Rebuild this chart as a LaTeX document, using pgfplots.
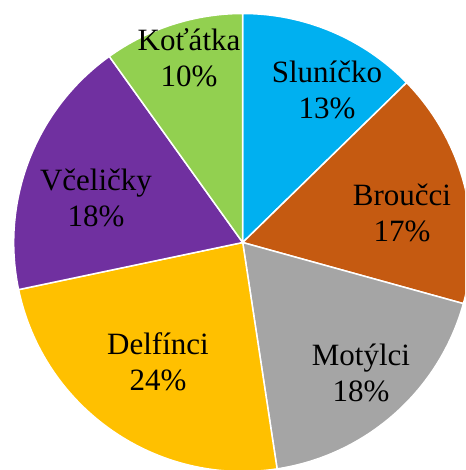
\documentclass[border=0pt]{standalone}
\usepackage{pgfplots}
\pgfplotsset{compat=1.18}
\usepackage{pgfplotstable}
\usepackage{fontspec}
\setmainfont{Liberation Serif}
\definecolor{pie0}{HTML}{00B0F0}
\definecolor{pie1}{HTML}{C55A11}
\definecolor{pie2}{HTML}{A5A5A5}
\definecolor{pie3}{HTML}{FFC000}
\definecolor{pie4}{HTML}{7030A0}
\definecolor{pie5}{HTML}{92D050}
\pgfplotstableread{
name value lx ly
Sluníčko 12.7 84.3 152.5
Broučci 16.6 159.3 29.5
Motýlci 18.3 118.3 -130.5
Delfínci 24.1 -84.7 -119.5
Včeličky 18.4 -146.7 44.5
Koťátka 9.9 -53.7 184.5
}\piedata
\begin{document}
\begin{tikzpicture}
\begin{axis}[scale only axis, width=465pt, height=470pt,
  xmin=-242.7, xmax=222.3, ymin=-227.5, ymax=242.5,
  axis line style={draw=none}, ticks=none, clip=true]
\pgfplotstablegetrowsof{\piedata}
\pgfmathtruncatemacro{\nrows}{\pgfplotsretval-1}
\gdef\cum{0}
\pgfplotsforeachungrouped \i in {0,...,\nrows}{%
  \pgfplotstablegetelem{\i}{value}\of\piedata
  \let\v\pgfplotsretval
  \pgfmathsetmacro{\a}{90-3.6*\cum}%
  \pgfmathsetmacro{\cumnew}{\cum+\v}%
  \pgfmathsetmacro{\b}{90-3.6*\cumnew}%
  \xdef\cum{\cumnew}%
  \edef\temp{\noexpand\fill[pie\i, draw=white, line width=1.5pt] (axis cs:0,0) -- ++(\a:229pt) arc[start angle=\a, end angle=\b, radius=229pt] -- cycle;}%
  \temp
}
\pgfplotsforeachungrouped \i in {0,...,\nrows}{%
  \pgfplotstablegetelem{\i}{value}\of\piedata
  \pgfmathtruncatemacro{\pct}{round(\pgfplotsretval)}%
  \pgfplotstablegetelem{\i}{lx}\of\piedata \let\lx\pgfplotsretval
  \pgfplotstablegetelem{\i}{ly}\of\piedata \let\ly\pgfplotsretval
  \pgfplotstablegetelem{\i}{name}\of\piedata \let\nm\pgfplotsretval
  \edef\temp{\noexpand\node[align=center, inner sep=0pt, font=\noexpand\fontsize{31}{36.5}\noexpand\selectfont] at (axis cs:\lx,\ly) {\nm\noexpand\\\pct\noexpand\%};}%
  \temp
}
\end{axis}
\end{tikzpicture}
\end{document}
